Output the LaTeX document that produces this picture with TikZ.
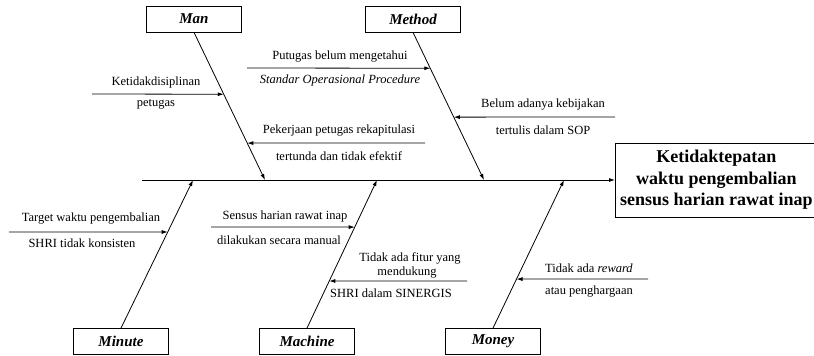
\documentclass[tikz,border=0pt]{standalone}
\usepackage{fontspec}
\setmainfont{Liberation Serif}
\usetikzlibrary{arrows.meta,calc}
\begin{document}
\begin{tikzpicture}[x=1pt,y=-1pt,
  catbox/.style={draw,line width=0.8pt,minimum width=95pt,minimum height=26pt,inner sep=0pt,
    font=\fontsize{15}{17}\selectfont\bfseries\itshape},
  effbox/.style={draw,line width=0.8pt,minimum width=202pt,minimum height=74pt,inner sep=0pt,align=center,
    font=\fontsize{18}{21.5}\selectfont\bfseries},
  lbl/.style={inner sep=0pt,font=\fontsize{12.5}{14}\selectfont},
  spine/.style={line width=0.8pt,-{Latex[length=6pt,width=4pt]}},
  rib/.style={line width=0.8pt,-{Latex[length=6pt,width=4pt]}}]
\useasboundingbox (0,0) rectangle (814,356);
% category boxes
\node[catbox] (man) at (194,19) {Man};
\node[catbox] (method) at (413,19) {Method};
\node[catbox] (minute) at (121,341.5) {Minute};
\node[catbox] (machine) at (307,341.5) {Machine};
\node[catbox] (money) at (493,341.5) {Money};
% effect
\node[effbox,anchor=west] (eff) at (615,180) {Ketidaktepatan\\waktu pengembalian\\sensus harian rawat inap};
% main line
\coordinate (tail) at (142,180);
\draw[spine] (tail) -- (eff.west);
% spine ends
\coordinate (manE) at (265,180);
\coordinate (methodE) at (484,180);
\coordinate (minuteE) at (193,180);
\coordinate (machineE) at (377,180);
\coordinate (moneyE) at (564,180);
\draw[spine] (man.south) -- (manE);
\draw[spine] (method.south) -- (methodE);
\draw[spine] (minute.north) -- (minuteE);
\draw[spine] (machine.north) -- (machineE);
\draw[spine] (money.north) -- (moneyE);
% points on spines
\coordinate (m1) at ($(man.south)!0.419!(manE)$);
\coordinate (m2) at ($(man.south)!0.75!(manE)$);
\coordinate (d1) at ($(method.south)!0.243!(methodE)$);
\coordinate (d2) at ($(method.south)!0.574!(methodE)$);
\coordinate (n1) at ($(minute.north)!0.649!(minuteE)$);
\coordinate (c1) at ($(machine.north)!0.682!(machineE)$);
\coordinate (c2) at ($(machine.north)!0.318!(machineE)$);
\coordinate (y1) at ($(money.north)!0.331!(moneyE)$);
% rib tails
\coordinate (m1s) at (92,94);
\coordinate (m2s) at (425,143);
\coordinate (d1s) at (247,68);
\coordinate (d2s) at (615,117);
\coordinate (n1s) at (9,232);
\coordinate (c1s) at (211,227);
\coordinate (c2s) at (467,281);
\coordinate (y1s) at (648,279);
\draw[rib] (m1s) -- (m1);
\draw[rib] (m2s) -- (m2);
\draw[rib] (d1s) -- (d1);
\draw[rib] (d2s) -- (d2);
\draw[rib] (n1s) -- (n1);
\draw[rib] (c1s) -- (c1);
\draw[rib] (c2s) -- (c2);
\draw[rib] (y1s) -- (y1);
% labels
\node[lbl] (t1) at (156,82) {Ketidakdisiplinan};
\node[lbl] (t2) at (156,104) {petugas};
\node[lbl] (t3) at (340,57) {Putugas belum mengetahui};
\node[lbl] (t4) at (340,80) {\itshape Standar Operasional Procedure};
\node[lbl] (t5) at (339,131) {Pekerjaan petugas rekapitulasi};
\node[lbl] (t6) at (339,156) {tertunda dan tidak efektif};
\node[lbl] (t7) at (543,105) {Belum adanya kebijakan};
\node[lbl] (t8) at (543,130) {tertulis dalam SOP};
\node[lbl] (t9) at (91,219) {Target waktu pengembalian};
\node[lbl] (t10) at (82,243) {SHRI tidak konsisten};
\node[lbl] (t11) at (285,216) {Sensus harian rawat inap};
\node[lbl] (t12) at (279,240) {dilakukan secara manual};
\node[lbl] (t13) at (410,258.5) {Tidak ada fitur yang};
\node[lbl] (t14) at (407,272.5) {mendukung};
\node[lbl] (t15) at (391,293) {SHRI dalam SINERGIS};
\node[lbl] (t16) at (589,268) {Tidak ada \textit{reward}};
\node[lbl] (t17) at (589,292) {atau penghargaan};
\end{tikzpicture}
\end{document}
